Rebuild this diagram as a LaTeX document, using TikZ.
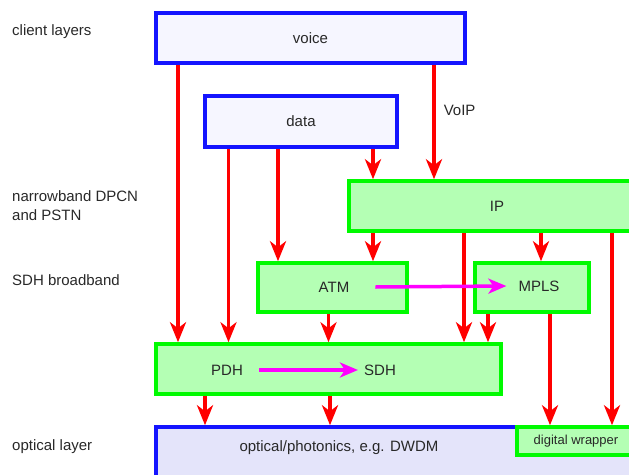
\documentclass[tikz,border=0pt]{standalone}
\usepackage{fontspec}
\setmainfont{Liberation Sans}
\usetikzlibrary{arrows.meta}

\definecolor{boxblue}{RGB}{20,20,255}
\definecolor{clientfill}{RGB}{246,246,255}
\definecolor{opticfill}{RGB}{228,228,250}
\definecolor{netgreen}{RGB}{0,250,0}
\definecolor{netfill}{RGB}{180,255,180}
\definecolor{flowred}{RGB}{255,0,0}
\definecolor{evolve}{RGB}{255,0,255}
\definecolor{labelgray}{RGB}{40,40,40}

\tikzset{
  client/.style={draw=boxblue, fill=clientfill, line width=3.5pt, inner sep=0pt,
    text=labelgray, font=\fontsize{15}{18}\selectfont},
  netbox/.style={draw=netgreen, fill=netfill, line width=3.5pt, inner sep=0pt,
    text=labelgray, font=\fontsize{15}{18}\selectfont},
  txt/.style={inner sep=0pt, text=labelgray, font=\fontsize{15}{18}\selectfont},
  layer/.style={txt, anchor=west, align=left},
  flow/.style={draw=flowred, line width=3.5pt,
    -{Stealth[length=20pt, width=16pt, inset=6pt]}},
  migrate/.style={draw=evolve, line width=3.5pt,
    -{Stealth[length=18pt, width=15pt, inset=5pt]}}
}

\begin{document}
\begin{tikzpicture}[x=1pt, y=-1pt]
  \useasboundingbox (0,0) rectangle (629,474);
  \clip (0,0) rectangle (629,474);

  % layer captions on the left
  \node[layer] (capclient) at (12,32) {client layers};
  \node[layer] (capnarrow) at (12,206) {narrowband DPCN\\[1pt]and PSTN};
  \node[layer] (capsdh) at (12,280) {SDH broadband};
  \node[layer] (capoptic) at (12,447) {optical layer};

  % boxes
  \node[client, minimum width=309pt, minimum height=50pt] (voice) at (310.5,38) {voice};
  \node[client, minimum width=192pt, minimum height=51pt] (data) at (301,121.5) {data};
  \node[netbox, minimum width=296pt, minimum height=50pt] (ip) at (497,206) {IP};
  \node[netbox, minimum width=149pt, minimum height=49pt] (atm) at (332.5,287.5) {};
  \node[netbox, minimum width=114pt, minimum height=49pt] (mpls) at (532,287.5) {};
  \node[netbox, minimum width=345pt, minimum height=50pt] (pdhsdh) at (328.5,369) {};
  \node[client, fill=opticfill, minimum width=560pt, minimum height=100pt] (optic) at (436,477) {};
  \node[netbox, minimum width=124pt, minimum height=28pt] (wrap) at (579,441) {};

  % texts inside boxes
  \node[txt] (atmt) at (334,287) {ATM};
  \node[txt] (mplst) at (539,286) {MPLS};
  \node[txt] (pdht) at (227,370) {PDH};
  \node[txt] (sdht) at (380,370) {SDH};
  \node[txt] (optict) at (339,448) {optical/photonics, e.g. DWDM};
  \node[txt, font=\fontsize{13}{15}\selectfont] (wrapt) at (576,441) {digital wrapper};

  % columns of the connectors
  \coordinate (c178) at (178,0);
  \coordinate (c205) at (205,0);
  \coordinate (c228) at (228.5,0);
  \coordinate (c278) at (278,0);
  \coordinate (c328) at (328.5,0);
  \coordinate (c330) at (330,0);
  \coordinate (c373) at (373,0);
  \coordinate (c434) at (434,0);
  \coordinate (c464) at (464,0);
  \coordinate (c488) at (488,0);
  \coordinate (c541) at (541,0);
  \coordinate (c550) at (550,0);
  \coordinate (c612) at (612,0);

  % voice
  \draw[flow] (voice.south -| c178) -- (pdhsdh.north -| c178);
  \draw[flow] (voice.south -| c434) -- node[txt, right=8pt, pos=0.4] (voip) {VoIP} (ip.north -| c434);
  % data
  \draw[flow] (data.south -| c228) -- (pdhsdh.north -| c228);
  \draw[flow] (data.south -| c278) -- (atm.north -| c278);
  \draw[flow] (data.south -| c373) -- (ip.north -| c373);
  % IP
  \draw[flow] (ip.south -| c373) -- (atm.north -| c373);
  \draw[flow] (ip.south -| c464) -- (pdhsdh.north -| c464);
  \draw[flow] (ip.south -| c541) -- (mpls.north -| c541);
  \draw[flow] (ip.south -| c612) -- (wrap.north -| c612);
  % ATM and MPLS
  \draw[flow] (atm.south -| c328) -- (pdhsdh.north -| c328);
  \draw[flow] (mpls.south -| c488) -- (pdhsdh.north -| c488);
  \draw[flow] (mpls.south -| c550) -- (wrap.north -| c550);
  % PDH/SDH
  \draw[flow] (pdhsdh.south -| c205) -- (optic.north -| c205);
  \draw[flow] (pdhsdh.south -| c330) -- (optic.north -| c330);

  % migrations
  \draw[migrate] ([xshift=26pt]atmt.east) -- ([xshift=-12pt]mplst.west);
  \draw[migrate] ([xshift=16pt]pdht.east) -- ([xshift=-6pt]sdht.west);
\end{tikzpicture}
\end{document}
